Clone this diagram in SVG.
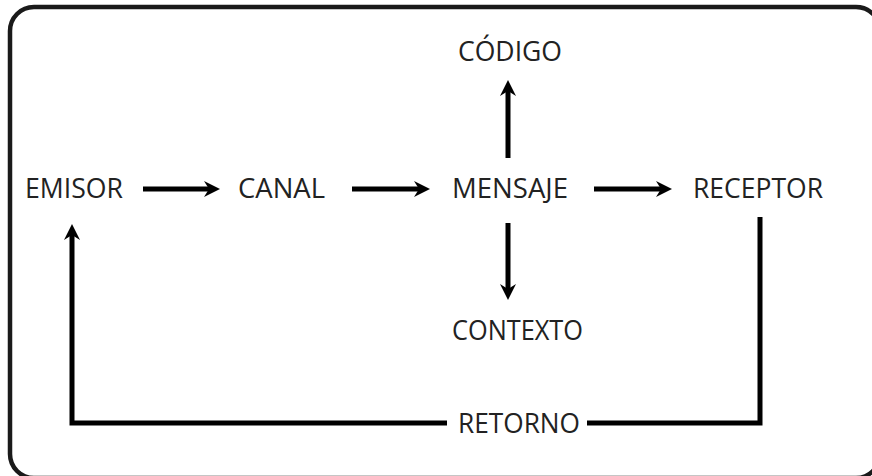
<svg xmlns="http://www.w3.org/2000/svg" width="872" height="476" viewBox="0 0 872 476">
<style>
.lbl{font-family:"Open Sans","Liberation Sans",sans-serif;font-size:27px;fill:#222;}
.ln{fill:none;stroke:#000;stroke-width:5;}
</style>
<defs>
<marker id="ah" markerUnits="userSpaceOnUse" viewBox="0 0 16 18" markerWidth="16" markerHeight="18" refX="6" refY="9" orient="auto">
<path d="M0,1 L16,9 L0,17 L5,9 Z" fill="#000"/>
</marker>
</defs>
<rect x="10" y="7" width="870" height="471" rx="24" fill="#fff" stroke="#1a1a1a" stroke-width="4.5"/>
<g id="connectors">
<line class="ln" x1="143" y1="189" x2="210" y2="189" marker-end="url(#ah)"/>
<line class="ln" x1="352" y1="189" x2="420" y2="189" marker-end="url(#ah)"/>
<line class="ln" x1="594" y1="189" x2="662" y2="189" marker-end="url(#ah)"/>
<line class="ln" x1="508" y1="158" x2="508" y2="90" marker-end="url(#ah)"/>
<line class="ln" x1="508" y1="223" x2="508" y2="290" marker-end="url(#ah)"/>
<polyline class="ln" points="760,217 760,423 587,423"/>
<polyline class="ln" points="447,423 72,423 72,234" marker-end="url(#ah)"/>
</g>
<g id="emisor"><text class="lbl" x="25" y="198" textLength="98" lengthAdjust="spacingAndGlyphs">EMISOR</text></g>
<g id="canal"><text class="lbl" x="238" y="198" textLength="87" lengthAdjust="spacingAndGlyphs">CANAL</text></g>
<g id="mensaje"><text class="lbl" x="452" y="198" textLength="116" lengthAdjust="spacingAndGlyphs">MENSAJE</text></g>
<g id="receptor"><text class="lbl" x="693" y="198" textLength="130" lengthAdjust="spacingAndGlyphs">RECEPTOR</text></g>
<g id="codigo"><text class="lbl" x="458" y="61" textLength="104" lengthAdjust="spacingAndGlyphs">CÓDIGO</text></g>
<g id="contexto"><text class="lbl" x="452" y="340" textLength="131" lengthAdjust="spacingAndGlyphs">CONTEXTO</text></g>
<g id="retorno"><text class="lbl" x="458" y="433" textLength="122" lengthAdjust="spacingAndGlyphs">RETORNO</text></g>
</svg>
